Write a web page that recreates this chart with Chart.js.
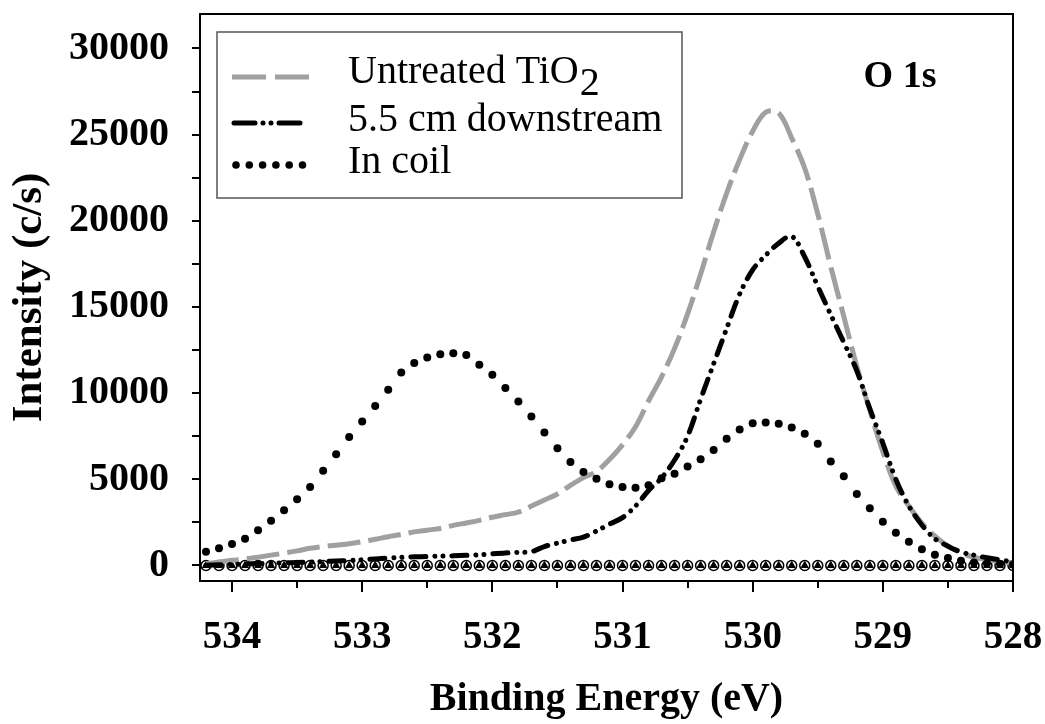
<!DOCTYPE html>
<html><head><meta charset="utf-8">
<script src="https://cdn.jsdelivr.net/npm/chart.js@4/dist/chart.umd.min.js"></script>
<style>html,body{margin:0;padding:0;background:#fff;}canvas{display:block;}</style>
</head><body>
<canvas id="c" width="1045" height="724"></canvas>
<script>
// ---- data ----
const energies = [534.2,534.1,534.0,533.9,533.8,533.7,533.6,533.5,533.4,533.3,533.2,533.1,533.0,532.9,532.8,532.7,532.6,532.5,532.4,532.3,532.2,532.1,532.0,531.9,531.8,531.7,531.6,531.5,531.4,531.3,531.2,531.1,531.0,530.9,530.8,530.7,530.6,530.5,530.4,530.3,530.2,530.1,530.0,529.9,529.8,529.7,529.6,529.5,529.4,529.3,529.2,529.1,529.0,528.9,528.8,528.7,528.6,528.5,528.4,528.3,528.2,528.1,528.0];
const untreated = [100,200,300,380,480,600,720,850,1000,1100,1180,1260,1380,1520,1670,1800,1950,2050,2150,2330,2470,2620,2800,2950,3100,3450,3800,4150,4650,5100,5450,6150,7000,8050,9550,10950,12600,14600,16900,19350,21600,23550,25200,26300,26250,24800,23050,20400,17340,14450,11550,9000,6600,4600,3450,2460,1700,1130,740,480,340,230,160];
const downstream = [20,40,60,90,110,130,150,180,200,230,260,290,330,380,430,470,500,520,540,560,590,620,680,730,760,800,1100,1300,1480,1650,2000,2400,2780,3450,4350,5080,6120,7500,9650,11700,13750,15750,17150,18000,18700,19100,17900,16200,14550,12950,11300,9100,7100,5000,3450,2350,1550,1120,780,600,450,330,200];
const inCoil = [800,1000,1250,1550,2050,2600,3200,3850,4550,5500,6450,7450,8350,9250,10200,11200,11750,12070,12250,12320,12220,11650,11070,10300,9520,8650,7720,6800,6010,5430,5030,4720,4550,4510,4660,5060,5330,5750,6170,6700,7350,7890,8260,8300,8220,8000,7650,7060,6040,5180,4150,3320,2540,1900,1380,940,620,430,280,180,120,80,60];
const baseline = [0,0,0,0,0,0,0,0,0,0,0,0,0,0,0,0,0,0,0,0,0,0,0,0,0,0,0,0,0,0,0,0,0,0,0,0,0,0,0,0,0,0,0,0,0,0,0,0,0,0,0,0,0,0,0,0,0,0,0,0,0,0,0];
const seriesLabels = ['Untreated TiO2','5.5 cm downstream','In coil'];
const xTickLabels = [534,533,532,531,530,529,528];
const xTickMarks = [534,533.5,533,532.5,532,531.5,531,530.5,530,529.5,529,528.5,528];
const yTickLabels = [0,5000,10000,15000,20000,25000,30000];
const yTickMarks = [0,2500,5000,7500,10000,12500,15000,17500,20000,22500,25000,27500,30000];
const peakLabel = 'O 1s';
const xTitle = 'Binding Energy (eV)';
const yTitle = 'Intensity (c/s)';

const SERIF = "'Liberation Serif','Times New Roman',serif";
const pts = arr => energies.map((e,i)=>({x:e,y:arr[i]}));

const styles = [
  {borderColor:'#a0a0a0', borderWidth:5, borderDash:[33,8], borderCapStyle:'butt'},
  {borderColor:'#000', borderWidth:5, borderDash:[15,9,0.01,8,0.01,9], borderCapStyle:'round'}
];

const decor = {
  id:'decor',
  afterDraw(chart){
    const ctx = chart.ctx, a = chart.chartArea;
    const xs = chart.scales.x, ys = chart.scales.y;
    ctx.save();
    ctx.strokeStyle='#000'; ctx.lineWidth=2;
    ctx.strokeRect(a.left, a.top, a.right-a.left, a.bottom-a.top);
    xTickMarks.forEach(v=>{
      const px = Math.round(xs.getPixelForValue(v));
      const len = Number.isInteger(v) ? 11 : 7;
      ctx.beginPath(); ctx.moveTo(px, a.bottom); ctx.lineTo(px, a.bottom+len); ctx.stroke();
    });
    yTickMarks.forEach(v=>{
      const py = Math.round(ys.getPixelForValue(v));
      ctx.beginPath(); ctx.moveTo(a.left-8, py); ctx.lineTo(a.left, py); ctx.stroke();
    });
    // legend
    const L = {x:217, y:32, w:465, h:166};
    ctx.fillStyle='#fff'; ctx.fillRect(L.x,L.y,L.w,L.h);
    ctx.strokeStyle='#555'; ctx.lineWidth=1.5; ctx.strokeRect(L.x,L.y,L.w,L.h);
    const rows = [77,123,165];
    const textBase = [83,131,173];
    ctx.setLineDash([34,9]); ctx.lineCap='butt';
    ctx.strokeStyle=styles[0].borderColor; ctx.lineWidth=styles[0].borderWidth;
    ctx.beginPath(); ctx.moveTo(232,rows[0]); ctx.lineTo(311,rows[0]); ctx.stroke();
    ctx.setLineDash([21,8,0.01,8,0.01,8]); ctx.lineCap='round';
    ctx.strokeStyle='#000'; ctx.lineWidth=5;
    ctx.beginPath(); ctx.moveTo(234,rows[1]); ctx.lineTo(305,rows[1]); ctx.stroke();
    ctx.setLineDash([]);
    ctx.fillStyle='#000';
    for(let i=0;i<6;i++){ ctx.beginPath(); ctx.arc(236+i*13.3, rows[2], 3.8, 0, Math.PI*2); ctx.fill(); }
    ctx.font = "40px "+SERIF; ctx.textBaseline='alphabetic'; ctx.textAlign='left'; ctx.fillStyle='#000';
    seriesLabels.forEach((t,i)=>{
      const m = t.match(/^(.*TiO)2$/);
      if(m){
        ctx.fillText(m[1], 348, textBase[i]);
        const w = ctx.measureText(m[1]).width;
        ctx.fillText('2', 348+w+1, textBase[i]+12);
      } else ctx.fillText(t, 348, textBase[i]);
    });
    ctx.font = "bold 38px "+SERIF; ctx.textAlign='center'; ctx.textBaseline='middle';
    ctx.fillText(peakLabel, 900, 77);
    ctx.restore();
  }
};

new Chart(document.getElementById('c'), {
  type:'line',
  data:{datasets:[
    {label:seriesLabels[0], data:pts(untreated), ...styles[0], pointRadius:0, fill:false, tension:0.35, order:4},
    {label:seriesLabels[1], data:pts(downstream), ...styles[1], pointRadius:0, fill:false, tension:0.35, order:3},
    {label:seriesLabels[2], data:pts(inCoil), showLine:false, pointRadius:4, pointBackgroundColor:'#000', pointBorderColor:'#000', pointBorderWidth:0, order:2},
    {label:'bgA', data:pts(baseline), showLine:false, pointStyle:'circle', pointRadius:5, pointBackgroundColor:'#fff', pointBorderColor:'#000', pointBorderWidth:1.5, order:6},
    {label:'bgB', data:pts(baseline), showLine:false, pointStyle:'triangle', pointRadius:4, pointBackgroundColor:'#000', pointBorderColor:'#000', pointBorderWidth:1, order:5}
  ]},
  options:{
    responsive:false, animation:false, devicePixelRatio:1,
    layout:{padding:{top:14,right:32,left:0,bottom:0}},
    plugins:{legend:{display:false}, tooltip:{enabled:false}},
    scales:{
      x:{type:'linear', reverse:true, min:528, max:534.246,
        afterBuildTicks:s=>{ s.ticks = xTickLabels.map(v=>({value:v})); },
        afterFit:s=>{ s.height = 143; s.paddingLeft = 0; s.paddingRight = 0; },
        ticks:{font:{family:SERIF,size:39,weight:'bold'}, color:'#000', padding:34, maxRotation:0, autoSkip:false, callback:v=>String(v)},
        grid:{display:false, drawTicks:false}, border:{display:false},
        title:{display:true, text:xTitle, color:'#000', font:{family:SERIF,size:40,weight:'bold'}, padding:{top:0,bottom:0}}
      },
      y:{type:'linear', min:-900, max:32000,
        afterBuildTicks:s=>{ s.ticks = yTickLabels.map(v=>({value:v})); },
        afterFit:s=>{ s.width = 200; s.paddingTop = 0; s.paddingBottom = 0; },
        ticks:{font:{family:SERIF,size:40,weight:'bold'}, color:'#000', padding:31, callback:v=>String(v)},
        grid:{display:false, drawTicks:false}, border:{display:false},
        title:{display:true, text:yTitle, color:'#000', font:{family:SERIF,size:43,weight:'bold'}, padding:{top:4,bottom:0}}
      }
    }
  },
  plugins:[decor]
});
</script>
</body></html>
